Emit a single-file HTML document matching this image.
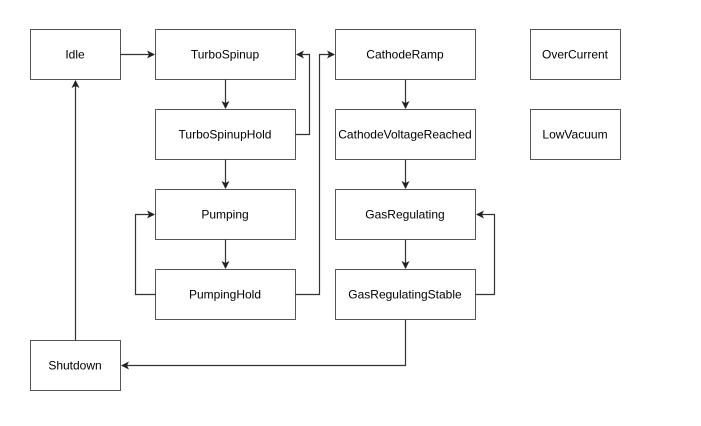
<!DOCTYPE html>
<html><head><style>body{margin:0;background:#fff}</style></head><body>
<svg width="701" height="421" xmlns="http://www.w3.org/2000/svg" font-family="Liberation Sans, Arial, sans-serif" font-size="12">
<defs><marker id="a" markerWidth="8" markerHeight="8" refX="7" refY="4" orient="auto" markerUnits="userSpaceOnUse"><path d="M0,0 L8,4 L0,8 L2,4 Z" fill="#222"/></marker></defs>
<g fill="#fff" stroke="#555" stroke-width="1">
<rect x="30.5" y="29.5" width="90" height="50"/>
<rect x="155.5" y="29.5" width="140" height="50"/>
<rect x="155.5" y="109.5" width="140" height="50"/>
<rect x="155.5" y="189.5" width="140" height="50"/>
<rect x="155.5" y="269.5" width="140" height="50"/>
<rect x="335.5" y="29.5" width="140" height="50"/>
<rect x="335.5" y="109.5" width="140" height="50"/>
<rect x="335.5" y="189.5" width="140" height="50"/>
<rect x="335.5" y="269.5" width="140" height="50"/>
<rect x="530.5" y="29.5" width="90" height="50"/>
<rect x="530.5" y="109.5" width="90" height="50"/>
<rect x="30.5" y="340.5" width="90" height="50"/>
</g>
<g fill="none" stroke="#333" stroke-width="1.2" marker-end="url(#a)">
<path d="M120.5,54.5 H154"/>
<path d="M225.5,79.5 V108"/>
<path d="M225.5,159.5 V188"/>
<path d="M225.5,239.5 V268"/>
<path d="M405.5,79.5 V108"/>
<path d="M405.5,159.5 V188"/>
<path d="M405.5,239.5 V268"/>
<path d="M295.5,134.5 H309.5 V54.5 H297"/>
<path d="M295.5,294.5 H319.5 V54.5 H334"/>
<path d="M155.5,294.5 H135.5 V214.5 H154"/>
<path d="M475.5,294.5 H494.5 V214.5 H477"/>
<path d="M405.5,319.5 V365.5 H122"/>
<path d="M75.5,340.5 V81"/>
</g>
<g fill="#000" text-anchor="middle">
<text x="75" y="58.5">Idle</text>
<text x="225" y="58.5">TurboSpinup</text>
<text x="225" y="138.5">TurboSpinupHold</text>
<text x="225" y="218.5">Pumping</text>
<text x="225" y="298.5">PumpingHold</text>
<text x="405" y="58.5">CathodeRamp</text>
<text x="405" y="138.5">CathodeVoltageReached</text>
<text x="405" y="218.5">GasRegulating</text>
<text x="405" y="298.5">GasRegulatingStable</text>
<text x="575" y="58.5">OverCurrent</text>
<text x="575" y="138.5">LowVacuum</text>
<text x="75" y="369.5">Shutdown</text>
</g>
</svg>
</body></html>
